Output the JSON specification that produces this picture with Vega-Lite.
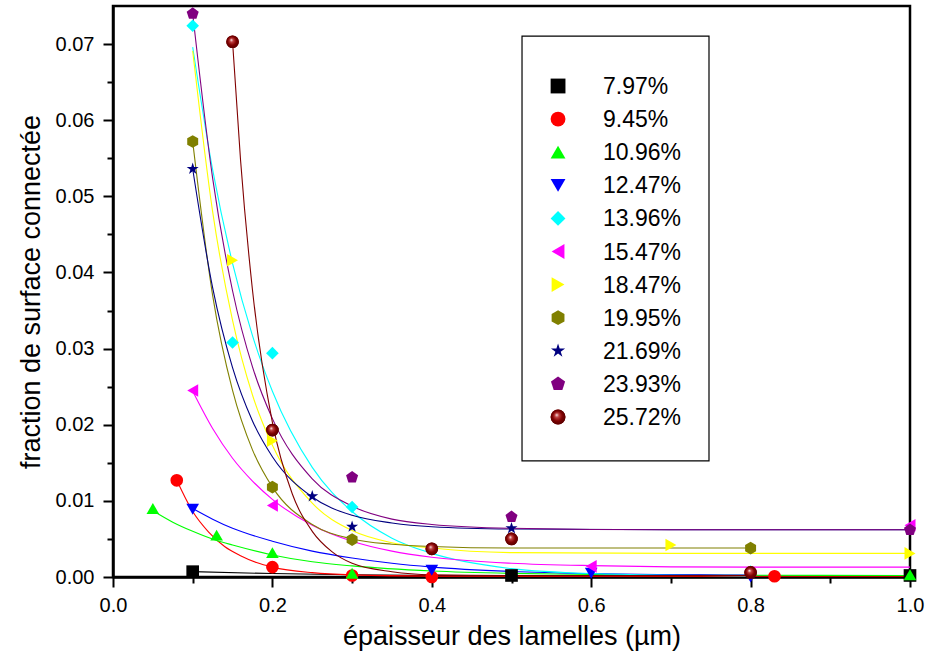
{
  "$schema": "https://vega.github.io/schema/vega-lite/v6.json",
  "width": 797,
  "height": 571,
  "autosize": "none",
  "padding": {"left": 113, "top": 6, "right": 17, "bottom": 83},
  "background": "white",
  "config": {
    "font": "Liberation Sans",
    "view": {"stroke": "black", "strokeWidth": 2.5},
    "axis": {"grid": false, "domainColor": "black", "domainWidth": 2.5, "tickColor": "black", "tickWidth": 2, "labelColor": "black", "titleColor": "black", "labelFont": "Liberation Sans", "titleFont": "Liberation Sans", "labelFontSize": 20, "titleFontSize": 27, "titleFontWeight": "normal"}
  },
  "resolve": {"scale": {"y": "independent"}, "axis": {"y": "independent"}},
  "datasets": {
    "leg": [
      {"s": "7.97%"}, {"s": "9.45%"}, {"s": "10.96%"}, {"s": "12.47%"}, {"s": "13.96%"}, {"s": "15.47%"}, {"s": "18.47%"}, {"s": "19.95%"}, {"s": "21.69%"}, {"s": "23.93%"}, {"s": "25.72%"}
    ],
    "pts": [
      {"s": "7.97%", "x": 0.1, "y": 0.0007}, {"s": "7.97%", "x": 0.5, "y": 0.0002}, {"s": "7.97%", "x": 1.0, "y": 0.0002},
      {"s": "9.45%", "x": 0.08, "y": 0.0127}, {"s": "9.45%", "x": 0.2, "y": 0.0013}, {"s": "9.45%", "x": 0.3, "y": 0.0002}, {"s": "9.45%", "x": 0.4, "y": 0.0}, {"s": "9.45%", "x": 0.83, "y": 0.0001},
      {"s": "10.96%", "x": 0.05, "y": 0.009}, {"s": "10.96%", "x": 0.13, "y": 0.0055}, {"s": "10.96%", "x": 0.2, "y": 0.0032}, {"s": "10.96%", "x": 0.3, "y": 0.0005}, {"s": "10.96%", "x": 1.0, "y": 0.0003},
      {"s": "12.47%", "x": 0.1, "y": 0.0089}, {"s": "12.47%", "x": 0.4, "y": 0.0009}, {"s": "12.47%", "x": 0.6, "y": 0.0005}, {"s": "12.47%", "x": 0.8, "y": 0.0},
      {"s": "13.96%", "x": 0.1, "y": 0.0724}, {"s": "13.96%", "x": 0.15, "y": 0.0308}, {"s": "13.96%", "x": 0.2, "y": 0.0294}, {"s": "13.96%", "x": 0.3, "y": 0.0092}, {"s": "13.96%", "x": 0.8, "y": 0.0007},
      {"s": "15.47%", "x": 0.1, "y": 0.0245}, {"s": "15.47%", "x": 0.2, "y": 0.0094}, {"s": "15.47%", "x": 0.6, "y": 0.0014}, {"s": "15.47%", "x": 1.0, "y": 0.0068},
      {"s": "18.47%", "x": 0.15, "y": 0.0416}, {"s": "18.47%", "x": 0.2, "y": 0.0179}, {"s": "18.47%", "x": 0.7, "y": 0.0042}, {"s": "18.47%", "x": 1.0, "y": 0.0031},
      {"s": "19.95%", "x": 0.1, "y": 0.0572}, {"s": "19.95%", "x": 0.2, "y": 0.0118}, {"s": "19.95%", "x": 0.3, "y": 0.0049}, {"s": "19.95%", "x": 0.8, "y": 0.0038},
      {"s": "21.69%", "x": 0.1, "y": 0.0536}, {"s": "21.69%", "x": 0.25, "y": 0.0106}, {"s": "21.69%", "x": 0.3, "y": 0.0066}, {"s": "21.69%", "x": 0.5, "y": 0.0064},
      {"s": "23.93%", "x": 0.1, "y": 0.074}, {"s": "23.93%", "x": 0.3, "y": 0.0131}, {"s": "23.93%", "x": 0.5, "y": 0.0079}, {"s": "23.93%", "x": 1.0, "y": 0.0062},
      {"s": "25.72%", "x": 0.15, "y": 0.0703}, {"s": "25.72%", "x": 0.2, "y": 0.0193}, {"s": "25.72%", "x": 0.4, "y": 0.0037}, {"s": "25.72%", "x": 0.5, "y": 0.005}, {"s": "25.72%", "x": 0.8, "y": 0.0006}
    ],
    "fit": [
      {"s": "7.97%", "x": 0.1, "y": 0.0007}, {"s": "7.97%", "x": 0.2, "y": 0.00045}, {"s": "7.97%", "x": 0.3, "y": 0.0003}, {"s": "7.97%", "x": 0.4, "y": 0.0002}, {"s": "7.97%", "x": 0.5, "y": 0.00015}, {"s": "7.97%", "x": 0.7, "y": 0.0001}, {"s": "7.97%", "x": 1.0, "y": 0.0001},
      {"s": "9.45%", "x": 0.08, "y": 0.0127}, {"s": "9.45%", "x": 0.1, "y": 0.0086}, {"s": "9.45%", "x": 0.12, "y": 0.0059}, {"s": "9.45%", "x": 0.14, "y": 0.004}, {"s": "9.45%", "x": 0.16, "y": 0.0028}, {"s": "9.45%", "x": 0.18, "y": 0.0019}, {"s": "9.45%", "x": 0.2, "y": 0.0013}, {"s": "9.45%", "x": 0.25, "y": 0.00057}, {"s": "9.45%", "x": 0.3, "y": 0.00028}, {"s": "9.45%", "x": 0.4, "y": 0.00012}, {"s": "9.45%", "x": 0.6, "y": 0.0001}, {"s": "9.45%", "x": 1.0, "y": 0.0001},
      {"s": "10.96%", "x": 0.05, "y": 0.0087}, {"s": "10.96%", "x": 0.075, "y": 0.0072}, {"s": "10.96%", "x": 0.1, "y": 0.006}, {"s": "10.96%", "x": 0.13, "y": 0.0048}, {"s": "10.96%", "x": 0.15, "y": 0.0042}, {"s": "10.96%", "x": 0.2, "y": 0.0029}, {"s": "10.96%", "x": 0.25, "y": 0.002}, {"s": "10.96%", "x": 0.3, "y": 0.00146}, {"s": "10.96%", "x": 0.4, "y": 0.00079}, {"s": "10.96%", "x": 0.5, "y": 0.00047}, {"s": "10.96%", "x": 0.6, "y": 0.00033}, {"s": "10.96%", "x": 0.8, "y": 0.00023}, {"s": "10.96%", "x": 1.0, "y": 0.0002},
      {"s": "12.47%", "x": 0.1, "y": 0.009}, {"s": "12.47%", "x": 0.125, "y": 0.0076}, {"s": "12.47%", "x": 0.15, "y": 0.0064}, {"s": "12.47%", "x": 0.2, "y": 0.0047}, {"s": "12.47%", "x": 0.25, "y": 0.0034}, {"s": "12.47%", "x": 0.3, "y": 0.0025}, {"s": "12.47%", "x": 0.35, "y": 0.0018}, {"s": "12.47%", "x": 0.4, "y": 0.0013}, {"s": "12.47%", "x": 0.5, "y": 0.00073}, {"s": "12.47%", "x": 0.6, "y": 0.00045}, {"s": "12.47%", "x": 0.8, "y": 0.00025},
      {"s": "13.96%", "x": 0.1, "y": 0.0696}, {"s": "13.96%", "x": 0.125, "y": 0.0535}, {"s": "13.96%", "x": 0.15, "y": 0.0412}, {"s": "13.96%", "x": 0.175, "y": 0.0317}, {"s": "13.96%", "x": 0.2, "y": 0.0244}, {"s": "13.96%", "x": 0.25, "y": 0.0144}, {"s": "13.96%", "x": 0.3, "y": 0.0086}, {"s": "13.96%", "x": 0.35, "y": 0.0051}, {"s": "13.96%", "x": 0.4, "y": 0.0031}, {"s": "13.96%", "x": 0.5, "y": 0.0011}, {"s": "13.96%", "x": 0.6, "y": 0.00046}, {"s": "13.96%", "x": 0.8, "y": 0.00013},
      {"s": "15.47%", "x": 0.1, "y": 0.0244}, {"s": "15.47%", "x": 0.125, "y": 0.0195}, {"s": "15.47%", "x": 0.15, "y": 0.0156}, {"s": "15.47%", "x": 0.175, "y": 0.0126}, {"s": "15.47%", "x": 0.2, "y": 0.0102}, {"s": "15.47%", "x": 0.25, "y": 0.0068}, {"s": "15.47%", "x": 0.3, "y": 0.0047}, {"s": "15.47%", "x": 0.35, "y": 0.0034}, {"s": "15.47%", "x": 0.4, "y": 0.0026}, {"s": "15.47%", "x": 0.5, "y": 0.0018}, {"s": "15.47%", "x": 0.6, "y": 0.0015}, {"s": "15.47%", "x": 0.8, "y": 0.0013}, {"s": "15.47%", "x": 1.0, "y": 0.0013},
      {"s": "18.47%", "x": 0.1, "y": 0.0691}, {"s": "18.47%", "x": 0.125, "y": 0.048}, {"s": "18.47%", "x": 0.15, "y": 0.0337}, {"s": "18.47%", "x": 0.175, "y": 0.0239}, {"s": "18.47%", "x": 0.2, "y": 0.0173}, {"s": "18.47%", "x": 0.25, "y": 0.0097}, {"s": "18.47%", "x": 0.3, "y": 0.0061}, {"s": "18.47%", "x": 0.35, "y": 0.0045}, {"s": "18.47%", "x": 0.4, "y": 0.0038}, {"s": "18.47%", "x": 0.5, "y": 0.0032}, {"s": "18.47%", "x": 0.7, "y": 0.0031}, {"s": "18.47%", "x": 1.0, "y": 0.0031},
      {"s": "19.95%", "x": 0.1, "y": 0.0572}, {"s": "19.95%", "x": 0.125, "y": 0.037}, {"s": "19.95%", "x": 0.15, "y": 0.0245}, {"s": "19.95%", "x": 0.175, "y": 0.0167}, {"s": "19.95%", "x": 0.2, "y": 0.0118}, {"s": "19.95%", "x": 0.25, "y": 0.0069}, {"s": "19.95%", "x": 0.3, "y": 0.005}, {"s": "19.95%", "x": 0.35, "y": 0.0043}, {"s": "19.95%", "x": 0.4, "y": 0.004}, {"s": "19.95%", "x": 0.5, "y": 0.0038}, {"s": "19.95%", "x": 0.8, "y": 0.0038},
      {"s": "21.69%", "x": 0.1, "y": 0.0536}, {"s": "21.69%", "x": 0.125, "y": 0.038}, {"s": "21.69%", "x": 0.15, "y": 0.0275}, {"s": "21.69%", "x": 0.175, "y": 0.0205}, {"s": "21.69%", "x": 0.2, "y": 0.0158}, {"s": "21.69%", "x": 0.25, "y": 0.0105}, {"s": "21.69%", "x": 0.3, "y": 0.0081}, {"s": "21.69%", "x": 0.35, "y": 0.0071}, {"s": "21.69%", "x": 0.4, "y": 0.0066}, {"s": "21.69%", "x": 0.5, "y": 0.0063}, {"s": "21.69%", "x": 0.7, "y": 0.0062}, {"s": "21.69%", "x": 1.0, "y": 0.0062},
      {"s": "23.93%", "x": 0.1, "y": 0.074}, {"s": "23.93%", "x": 0.125, "y": 0.0524}, {"s": "23.93%", "x": 0.15, "y": 0.0376}, {"s": "23.93%", "x": 0.175, "y": 0.0276}, {"s": "23.93%", "x": 0.2, "y": 0.0208}, {"s": "23.93%", "x": 0.25, "y": 0.0129}, {"s": "23.93%", "x": 0.3, "y": 0.0093}, {"s": "23.93%", "x": 0.35, "y": 0.0076}, {"s": "23.93%", "x": 0.4, "y": 0.0069}, {"s": "23.93%", "x": 0.5, "y": 0.0064}, {"s": "23.93%", "x": 0.7, "y": 0.0062}, {"s": "23.93%", "x": 1.0, "y": 0.0062},
      {"s": "25.72%", "x": 0.15, "y": 0.0703}, {"s": "25.72%", "x": 0.16, "y": 0.0548}, {"s": "25.72%", "x": 0.175, "y": 0.0377}, {"s": "25.72%", "x": 0.2, "y": 0.0203}, {"s": "25.72%", "x": 0.225, "y": 0.0109}, {"s": "25.72%", "x": 0.25, "y": 0.006}, {"s": "25.72%", "x": 0.275, "y": 0.0033}, {"s": "25.72%", "x": 0.3, "y": 0.0018}, {"s": "25.72%", "x": 0.35, "y": 0.0007}, {"s": "25.72%", "x": 0.4, "y": 0.0003}, {"s": "25.72%", "x": 0.5, "y": 0.0002}, {"s": "25.72%", "x": 0.8, "y": 0.0002}
    ]
  },
  "layer": [
    {
      "data": {"name": "fit"},
      "mark": {"type": "line", "strokeWidth": 1.1, "interpolate": "monotone", "clip": false},
      "encoding": {
        "x": {"field": "x", "type": "quantitative"},
        "y": {"field": "y", "type": "quantitative", "scale": {"domain": [0, 0.075], "nice": false, "zero": false}, "axis": null},
        "stroke": {"field": "s", "type": "nominal", "legend": null,
          "scale": {"domain": ["7.97%", "9.45%", "10.96%", "12.47%", "13.96%", "15.47%", "18.47%", "19.95%", "21.69%", "23.93%", "25.72%"],
                    "range": ["#000000", "#ff0000", "#00ff00", "#0000ff", "#00ffff", "#ff00ff", "#ffff00", "#808000", "#000080", "#800080", "#800000"]}},
        "detail": {"field": "s"}
      }
    },
    {
      "data": {"name": "pts"},
      "mark": {"type": "point", "filled": true, "size": 160, "opacity": 1, "clip": false},
      "encoding": {
        "x": {
          "field": "x", "type": "quantitative",
          "scale": {"domain": [0, 1], "nice": false, "zero": false},
          "axis": {
            "title": "épaisseur des lamelles (µm)",
            "values": [0, 0.1, 0.2, 0.3, 0.4, 0.5, 0.6, 0.7, 0.8, 0.9, 1.0],
            "labelExpr": "round(datum.value*10) % 2 == 0 ? format(datum.value, '.1f') : ''",
            "tickSize": {"condition": {"test": "round(datum.value*10) % 2 == 0", "value": 10}, "value": 6},
            "labelPadding": 8,
            "titlePadding": 8,
            "labelFlush": false
          }
        },
        "y": {
          "field": "y", "type": "quantitative",
          "scale": {"domain": [0, 0.075], "nice": false, "zero": false},
          "axis": {
            "title": "fraction de surface connectée",
            "orient": "left",
            "values": [0, 0.005, 0.01, 0.015, 0.02, 0.025, 0.03, 0.035, 0.04, 0.045, 0.05, 0.055, 0.06, 0.065, 0.07],
            "labelExpr": "round(datum.value*1000) % 10 == 0 ? format(datum.value, '.2f') : ''",
            "tickSize": {"condition": {"test": "round(datum.value*1000) % 10 == 0", "value": 10}, "value": 6},
            "labelPadding": 9,
            "titlePadding": 10,
            "labelFlush": false
          }
        },
        "color": {"field": "s", "type": "nominal", "legend": null,
          "scale": {"domain": ["7.97%", "9.45%", "10.96%", "12.47%", "13.96%", "15.47%", "18.47%", "19.95%", "21.69%", "23.93%", "25.72%"],
                    "range": ["#000000", "#ff0000", "#00ff00", "#0000ff", "#00ffff", "#ff00ff", "#ffff00", "#808000", "#000080", "#800080", "#800000"]}},
        "shape": {"field": "s", "type": "nominal", "legend": null,
          "scale": {"domain": ["7.97%", "9.45%", "10.96%", "12.47%", "13.96%", "15.47%", "18.47%", "19.95%", "21.69%", "23.93%", "25.72%"],
                    "range": ["square", "circle", "triangle-up", "triangle-down", "diamond", "triangle-left", "triangle-right",
                              "M0,-1L0.866,-0.5L0.866,0.5L0,1L-0.866,0.5L-0.866,-0.5Z",
                              "M0,-1L0.223,-0.307L0.951,-0.309L0.361,0.117L0.588,0.809L0,0.38L-0.588,0.809L-0.361,0.117L-0.951,-0.309L-0.223,-0.307Z",
                              "M0,-1L0.951,-0.309L0.588,0.809L-0.588,0.809L-0.951,-0.309Z",
                              "circle"]}}
      }
    },
    {
      "data": {"name": "pts"},
      "transform": [{"filter": "datum.s === '25.72%'"}],
      "mark": {"type": "point", "filled": true, "size": 160, "opacity": 1, "clip": false, "shape": "circle",
        "fill": {"gradient": "radial", "x1": 0.4, "y1": 0.35, "r1": 0, "x2": 0.5, "y2": 0.5, "r2": 0.55,
          "stops": [{"offset": 0, "color": "#ffffff"}, {"offset": 0.25, "color": "#c04040"}, {"offset": 0.6, "color": "#800000"}, {"offset": 1, "color": "#500000"}]}},
      "encoding": {
        "x": {"field": "x", "type": "quantitative"},
        "y": {"field": "y", "type": "quantitative", "scale": {"domain": [0, 0.075], "nice": false, "zero": false}, "axis": null}
      }
    },
    {
      "data": {"values": [{}]},
      "mark": {"type": "rect", "fill": "white", "stroke": "black", "strokeWidth": 1.2},
      "encoding": {
        "x": {"datum": 0.5132, "type": "quantitative"},
        "x2": {"datum": 0.7478},
        "y": {"datum": 0.07105, "type": "quantitative", "scale": {"domain": [0, 0.075], "nice": false, "zero": false}, "axis": null},
        "y2": {"datum": 0.01524}
      }
    },
    {
      "data": {"name": "leg"},
      "mark": {"type": "point", "filled": true, "size": 220, "opacity": 1},
      "encoding": {
        "x": {"datum": 0.5584, "type": "quantitative"},
        "y": {"field": "s", "type": "nominal", "axis": null,
          "scale": {"type": "point", "domain": ["7.97%", "9.45%", "10.96%", "12.47%", "13.96%", "15.47%", "18.47%", "19.95%", "21.69%", "23.93%", "25.72%"], "range": [80, 411], "padding": 0}},
        "color": {"field": "s", "type": "nominal", "legend": null},
        "shape": {"field": "s", "type": "nominal", "legend": null}
      }
    },
    {
      "data": {"name": "leg"},
      "transform": [{"filter": "datum.s === '25.72%'"}],
      "mark": {"type": "point", "filled": true, "size": 220, "opacity": 1, "shape": "circle",
        "fill": {"gradient": "radial", "x1": 0.4, "y1": 0.35, "r1": 0, "x2": 0.5, "y2": 0.5, "r2": 0.55,
          "stops": [{"offset": 0, "color": "#ffffff"}, {"offset": 0.25, "color": "#c04040"}, {"offset": 0.6, "color": "#800000"}, {"offset": 1, "color": "#500000"}]}},
      "encoding": {
        "x": {"datum": 0.5584, "type": "quantitative"},
        "y": {"field": "s", "type": "nominal", "axis": null,
          "scale": {"type": "point", "domain": ["7.97%", "9.45%", "10.96%", "12.47%", "13.96%", "15.47%", "18.47%", "19.95%", "21.69%", "23.93%", "25.72%"], "range": [80, 411], "padding": 0}}
      }
    },
    {
      "data": {"name": "leg"},
      "mark": {"type": "text", "align": "left", "baseline": "middle", "fontSize": 23, "font": "Liberation Sans", "color": "black", "dy": 1},
      "encoding": {
        "x": {"datum": 0.6148, "type": "quantitative"},
        "y": {"field": "s", "type": "nominal", "axis": null,
          "scale": {"type": "point", "domain": ["7.97%", "9.45%", "10.96%", "12.47%", "13.96%", "15.47%", "18.47%", "19.95%", "21.69%", "23.93%", "25.72%"], "range": [80, 411], "padding": 0}},
        "text": {"field": "s", "type": "nominal"}
      }
    }
  ]
}
